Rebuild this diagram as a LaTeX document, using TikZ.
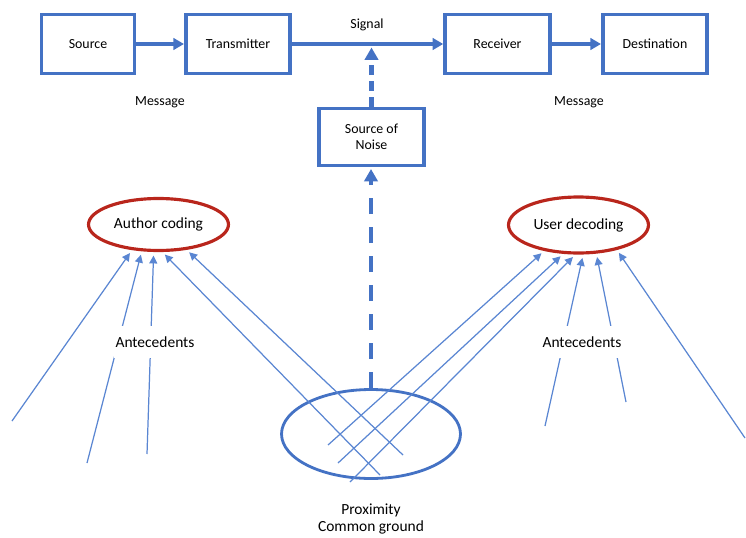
\documentclass[tikz,border=0pt]{standalone}
\usepackage{fontspec}
\setmainfont{Carlito}
\usetikzlibrary{arrows.meta,shapes.geometric,shadows}
\definecolor{bblue}{HTML}{4472C4}
\definecolor{tblue}{HTML}{5A86D2}
\definecolor{dred}{RGB}{185,38,28}
\begin{document}
\begin{tikzpicture}[x=0.02cm,y=-0.02cm,
  box/.style={draw=bblue,line width=2pt,fill=white,minimum height=1.18cm,inner sep=1pt,
    font=\fontsize{7.9}{9.2}\selectfont,align=center,
    drop shadow={shadow xshift=0.8pt,shadow yshift=-0.9pt,opacity=0.22}},
  lab/.style={font=\fontsize{7.9}{9.2}\selectfont},
  blab/.style={font=\fontsize{8.8}{10.2}\selectfont,align=center},
  oval/.style={ellipse,draw=dred,line width=1.8pt,inner sep=0pt,font=\fontsize{8.8}{10}\selectfont},
  tarrow/.style={bblue,line width=2pt,-{Triangle[length=6pt,width=6.5pt]}},
  darrow/.style={bblue,line width=2.6pt,-{Triangle[length=7pt,width=7.5pt]}},
  larrow/.style={tblue,line width=0.7pt,-{Triangle[length=4.5pt,width=4.5pt]},shorten >=2pt}
]
\useasboundingbox (0,0) rectangle (746,537);

% top boxes
\node[box,minimum width=1.86cm] (src) at (88,44) {Source};
\node[box,minimum width=2.09cm] (tx) at (238,44) {Transmitter};
\node[box,minimum width=2.10cm] (rx) at (497.5,44) {Receiver};
\node[box,minimum width=2.09cm] (dst) at (655,44) {Destination};
\node[box,minimum width=2.11cm,minimum height=1.14cm] (noise) at (371.5,137) {Source of\\Noise};

\node[lab] (sigl) at (367,25) {Signal};
\node[lab] (m1) at (160,102) {Message};
\node[lab] (m2) at (579,102) {Message};

% ellipses
\node[oval,minimum width=2.8cm,minimum height=1.04cm] (auth) at (158.5,224.5) {Author coding};
\node[oval,minimum width=2.8cm,minimum height=1.12cm] (user) at (578.5,225) {User decoding};
\node[ellipse,draw=bblue,line width=1.6pt,minimum width=3.58cm,minimum height=1.78cm] (cg) at (371,434) {};

% main flow
\draw[tarrow] (src) -- (tx);
\draw[tarrow] (tx) -- (rx);
\draw[tarrow] (rx) -- (dst);

\coordinate (sig) at (noise.north |- tx.east);
\draw[darrow,dash pattern=on 5.5pt off 3.5pt,shorten >=2pt] (noise.north) -- (sig);
\coordinate (nb) at (cg.north |- noise.south);
\draw[darrow,dash pattern=on 9pt off 7.5pt,shorten >=1pt] (cg.north) -- (nb);

% antecedent lines to author coding
\coordinate (a1) at (12,421);
\coordinate (a2) at (87,463);
\coordinate (a3) at (147,454);
\coordinate (a4) at (380,475);
\coordinate (a5) at (403,455);
\draw[larrow] (a1) -- (auth.-136);
\draw[larrow] (a2) -- (auth.-122);
\draw[larrow] (a3) -- (auth.-100);
\draw[larrow] (a4) -- (auth.-82);
\draw[larrow] (a5) -- (auth.-42);

% antecedent lines to user decoding
\coordinate (u1) at (328,445);
\coordinate (u2) at (338,463);
\coordinate (u3) at (350,482);
\coordinate (u4) at (545,426);
\coordinate (u5) at (626,402);
\coordinate (u6) at (745,438);
\draw[larrow] (u1) -- (user.-143);
\draw[larrow] (u2) -- (user.-118);
\draw[larrow] (u3) -- (user.-96);
\draw[larrow] (u4) -- (user.-81);
\draw[larrow] (u5) -- (user.-58);
\draw[larrow] (u6) -- (user.-33);

% labels
\node[blab,fill=white,inner xsep=1pt,minimum height=18.5pt] (ant1) at (155,342) {Antecedents};
\node[blab,fill=white,inner xsep=1pt,minimum height=18.5pt] (ant2) at (582,342) {Antecedents};
\node[blab] (prox) at (371,519) {Proximity\\Common ground};
\end{tikzpicture}
\end{document}
